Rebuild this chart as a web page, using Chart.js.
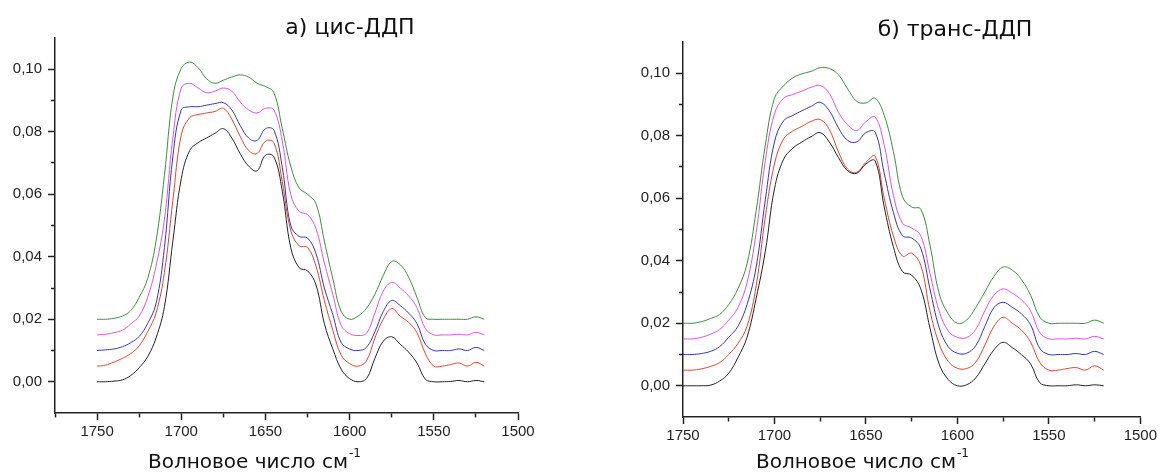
<!DOCTYPE html>
<html>
<head>
<meta charset="utf-8">
<script src="https://cdn.jsdelivr.net/npm/chart.js@4.4.1/dist/chart.umd.min.js"></script>
<style>
  body { margin: 0; background: #fff; }
  #wrap { position: relative; width: 1160px; height: 474px; }
  .box { position: absolute; top: 0; width: 580px; height: 474px; }
</style>
</head>
<body>
<div id="wrap">
  <div class="box" style="left:0"><canvas id="cis" width="580" height="474"></canvas></div>
  <div class="box" style="left:580px"><canvas id="trans" width="580" height="474"></canvas></div>
</div>
<script>
// wavenumbers, cm-1
const wavenumbers = [1750, 1745, 1740, 1735, 1730, 1725, 1720, 1715, 1710, 1705,
  1700, 1695, 1690, 1685, 1680, 1675, 1670, 1665, 1660, 1655,
  1650, 1645, 1640, 1635, 1630, 1625, 1620, 1615, 1610, 1605,
  1600, 1595, 1590, 1585, 1580, 1575, 1570, 1565, 1560, 1555,
  1550, 1545, 1540, 1535, 1530, 1525, 1520];

// а) цис-ДДП
const cisBlack = [0, 0, 0.0002, 0.0006, 0.002, 0.0045, 0.008, 0.014, 0.024, 0.045,
  0.065, 0.074, 0.0765, 0.078, 0.0795, 0.081, 0.078, 0.073, 0.069, 0.0675,
  0.0725, 0.072, 0.061, 0.043, 0.0365, 0.0355, 0.031, 0.0186, 0.0105, 0.004,
  0.001, 0, 0.001, 0.0075, 0.013, 0.0144, 0.012, 0.0095, 0.006, 0.0008,
  0, 0, 0.0001, 0.0004, 0, 0.0004, 0];
const cisRed = [0.005, 0.0053, 0.0063, 0.0075, 0.009, 0.0115, 0.016, 0.022, 0.035, 0.058,
  0.079, 0.0845, 0.0855, 0.086, 0.0865, 0.0875, 0.084, 0.0785, 0.074, 0.073,
  0.077, 0.0765, 0.064, 0.0485, 0.0435, 0.043, 0.037, 0.026, 0.0165, 0.0085,
  0.0058, 0.005, 0.0067, 0.014, 0.02, 0.0234, 0.021, 0.019, 0.0157, 0.009,
  0.005, 0.005, 0.0055, 0.006, 0.005, 0.0062, 0.005];
const cisBlue = [0.01, 0.0102, 0.0105, 0.0112, 0.0125, 0.0145, 0.0186, 0.025, 0.043, 0.072,
  0.087, 0.088, 0.088, 0.0885, 0.089, 0.0893, 0.087, 0.082, 0.078, 0.0772,
  0.081, 0.0805, 0.0686, 0.05, 0.0465, 0.046, 0.041, 0.03, 0.0215, 0.0125,
  0.0105, 0.01, 0.011, 0.016, 0.0225, 0.026, 0.0244, 0.022, 0.0186, 0.012,
  0.01, 0.01, 0.01, 0.0105, 0.01, 0.011, 0.01];
const cisMagenta = [0.015, 0.0152, 0.0157, 0.0165, 0.0185, 0.021, 0.027, 0.037, 0.052, 0.078,
  0.094, 0.0955, 0.094, 0.0925, 0.093, 0.094, 0.093, 0.0895, 0.087, 0.086,
  0.0875, 0.087, 0.077, 0.06, 0.0545, 0.0535, 0.049, 0.038, 0.028, 0.018,
  0.0154, 0.0148, 0.0155, 0.022, 0.029, 0.0318, 0.03, 0.0275, 0.0237, 0.017,
  0.015, 0.015, 0.015, 0.0152, 0.015, 0.0158, 0.015];
const cisGreen = [0.02, 0.02, 0.0203, 0.021, 0.0228, 0.027, 0.033, 0.045, 0.066, 0.091,
  0.1003, 0.1023, 0.1005, 0.097, 0.0955, 0.0965, 0.0975, 0.0982, 0.0975, 0.0955,
  0.0945, 0.0925, 0.081, 0.069, 0.062, 0.06, 0.057, 0.045, 0.033, 0.0225,
  0.02, 0.021, 0.0235, 0.028, 0.034, 0.0385, 0.0375, 0.0335, 0.027, 0.0205,
  0.02, 0.02, 0.02, 0.02, 0.02, 0.0208, 0.02];

// б) транс-ДДП
const transBlack = [0, 0, 0, 0.0002, 0.0015, 0.004, 0.009, 0.0155, 0.028, 0.043,
  0.063, 0.0725, 0.076, 0.078, 0.0797, 0.081, 0.078, 0.073, 0.0688, 0.068,
  0.071, 0.072, 0.0572, 0.0445, 0.0365, 0.0354, 0.031, 0.0185, 0.007, 0.002,
  0, 0.0003, 0.0025, 0.007, 0.0115, 0.0139, 0.0122, 0.01, 0.007, 0.001,
  0, 0, 0, 0.0003, 0, 0.0003, 0];
const transRed = [0.005, 0.005, 0.0054, 0.0062, 0.0074, 0.01, 0.0135, 0.019, 0.032, 0.054,
  0.071, 0.079, 0.0815, 0.083, 0.0846, 0.0852, 0.082, 0.0748, 0.0693, 0.0683,
  0.0715, 0.0735, 0.06, 0.048, 0.0415, 0.0424, 0.0385, 0.024, 0.0135, 0.0078,
  0.0056, 0.0055, 0.0075, 0.013, 0.019, 0.0219, 0.02, 0.0178, 0.014, 0.0075,
  0.005, 0.005, 0.0055, 0.0058, 0.005, 0.0064, 0.005];
const transBlue = [0.01, 0.01, 0.0103, 0.011, 0.0125, 0.0155, 0.019, 0.026, 0.038, 0.0595,
  0.078, 0.0848, 0.0865, 0.088, 0.0894, 0.0907, 0.088, 0.0825, 0.0785, 0.078,
  0.081, 0.0812, 0.068, 0.0555, 0.048, 0.0473, 0.044, 0.031, 0.0187, 0.0125,
  0.0104, 0.0104, 0.0128, 0.019, 0.025, 0.0267, 0.0251, 0.023, 0.0195, 0.012,
  0.01, 0.01, 0.01, 0.0103, 0.01, 0.011, 0.01];
const transMagenta = [0.015, 0.015, 0.0155, 0.0165, 0.018, 0.021, 0.025, 0.033, 0.049, 0.072,
  0.087, 0.092, 0.0932, 0.0943, 0.0955, 0.0961, 0.0935, 0.0875, 0.0835, 0.0817,
  0.0845, 0.086, 0.077, 0.061, 0.052, 0.0505, 0.048, 0.036, 0.024, 0.0175,
  0.0155, 0.0154, 0.018, 0.024, 0.029, 0.031, 0.0296, 0.0275, 0.024, 0.017,
  0.015, 0.015, 0.015, 0.0152, 0.015, 0.0158, 0.015];
const transGreen = [0.02, 0.02, 0.0205, 0.0215, 0.0228, 0.026, 0.031, 0.039, 0.056, 0.077,
  0.092, 0.096, 0.0985, 0.0998, 0.1006, 0.1018, 0.1015, 0.0995, 0.095, 0.091,
  0.0905, 0.092, 0.0865, 0.075, 0.0605, 0.0572, 0.0565, 0.045, 0.0296, 0.023,
  0.02, 0.021, 0.025, 0.03, 0.035, 0.038, 0.037, 0.034, 0.029, 0.022,
  0.02, 0.02, 0.02, 0.02, 0.02, 0.021, 0.02];

const lineColors = ["#222222", "#d8452f", "#2f37b3", "#e150e0", "#3b8d3b"];
const axisLabel = "Волновое число см";
const axisSup = "-1";

// titles drawn on top of the canvas
const captions = {
    id: "captions",
    afterDraw(chart, args, o) {
        const ctx = chart.ctx;
        ctx.save();
        ctx.fillStyle = "#111";
        ctx.textBaseline = "middle";
        ctx.textAlign = "center";
        ctx.font = "22px 'DejaVu Sans'";
        ctx.fillText(o.title, o.titleX, o.titleY);

        ctx.font = "20px 'DejaVu Sans'";
        const w1 = ctx.measureText(axisLabel).width;
        ctx.font = "12px 'DejaVu Sans'";
        const w2 = ctx.measureText(axisSup).width;
        const x0 = o.axisX - (w1 + w2) / 2;
        ctx.textAlign = "left";
        ctx.font = "20px 'DejaVu Sans'";
        ctx.fillText(axisLabel, x0, o.axisY);
        ctx.font = "12px 'DejaVu Sans'";
        ctx.fillText(axisSup, x0 + w1 + 1, o.axisY - 9);
        ctx.restore();
    },
};

function makeChart(id, series, xMax, box, cap) {
    const datasets = series.map(function (vals, i) {
        return {
            data: wavenumbers.map(function (w, j) {
                return { x: w, y: vals[j] };
            }),
            borderColor: lineColors[i],
            borderWidth: 1,
            pointRadius: 0,
            fill: false,
            tension: 0.4,
        };
    });
    const tickFont = { family: "'Liberation Sans', Arial", size: 15 };
    return new Chart(document.getElementById(id).getContext("2d"), {
        type: "line",
        data: { datasets: datasets },
        plugins: [captions],
        options: {
            responsive: false,
            animation: false,
            devicePixelRatio: 1,
            layout: {
                autoPadding: false,
                padding: { left: 0, top: box.top, right: box.right, bottom: 0 },
            },
            plugins: {
                legend: { display: false },
                tooltip: { enabled: false },
                captions: cap,
            },
            scales: {
                x: {
                    type: "linear",
                    min: 1500,
                    max: xMax,
                    reverse: true,
                    afterFit: function (s) { s.height = box.xHeight; },
                    border: { display: true, color: "#222", width: 1.5 },
                    grid: {
                        drawOnChartArea: false,
                        tickLength: 7,
                        tickColor: "#222",
                        tickWidth: 1.5,
                        tickBorderDash: function (c) {
                            return Math.round(c.tick.value) % 50 === 0 ? [] : [4, 20];
                        },
                    },
                    ticks: {
                        stepSize: 25,
                        autoSkip: false,
                        maxRotation: 0,
                        padding: 3,
                        color: "#222",
                        font: tickFont,
                        callback: function (v) {
                            const n = Math.round(v);
                            return n % 50 === 0 ? String(n) : "";
                        },
                    },
                },
                y: {
                    min: -0.01,
                    max: 0.11,
                    afterFit: function (s) { s.width = box.yWidth; },
                    border: { display: true, color: "#222", width: 1.5 },
                    grid: {
                        drawOnChartArea: false,
                        tickLength: 7,
                        tickWidth: 1.5,
                        tickColor: function (c) {
                            const n = Math.round(c.tick.value * 100);
                            return n < 0 || n > 10 ? "rgba(0,0,0,0)" : "#222";
                        },
                        tickBorderDash: function (c) {
                            const n = Math.round(c.tick.value * 100);
                            return n % 2 === 0 ? [] : [0, 3, 4, 20];
                        },
                    },
                    ticks: {
                        stepSize: 0.01,
                        autoSkip: false,
                        padding: 6,
                        color: "#222",
                        font: tickFont,
                        callback: function (v) {
                            const n = Math.round(v * 100);
                            if (n < 0 || n > 10 || n % 2 !== 0) return "";
                            return (n / 100).toFixed(2).replace(".", ",");
                        },
                    },
                },
            },
        },
    });
}

makeChart("cis", [cisBlack, cisRed, cisBlue, cisMagenta, cisGreen], 1775,
    { top: 38, right: 62, yWidth: 55, xHeight: 61 },
    { title: "а) цис-ДДП", titleX: 350, titleY: 28, axisX: 254, axisY: 463 });

makeChart("trans", [transBlack, transRed, transBlue, transMagenta, transGreen], 1750,
    { top: 42, right: 18, yWidth: 103, xHeight: 57 },
    { title: "б) транс-ДДП", titleX: 375, titleY: 30, axisX: 282, axisY: 463 });
</script>
</body>
</html>
